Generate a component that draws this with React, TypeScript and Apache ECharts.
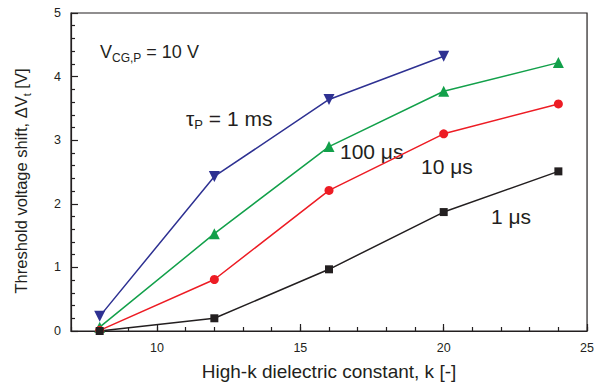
import React, { useEffect, useRef } from "react";
import * as echarts from "echarts";

const kValues = [8, 12, 16, 20, 24];
const tau1ms = [0.23, 2.43, 3.64, 4.32];
const tau100us = [0.06, 1.53, 2.9, 3.77, 4.22];
const tau10us = [0.01, 0.81, 2.21, 3.1, 3.57];
const tau1us = [0.0, 0.2, 0.97, 1.87, 2.51];
const xTickLabels = [10, 15, 20, 25];

const pairs = (ys: number[]) => ys.map((y, i) => [kValues[i], y]);

const FONT = "Liberation Sans, Arial, Helvetica, sans-serif";
const INK = "#231f20";

export default function App() {
  const ref = useRef<HTMLDivElement>(null);
  useEffect(() => {
    const chart = echarts.init(ref.current!, null, { renderer: "svg" });
    const mkSeries = (name: string, data: number[], color: string, symbol: string, size: number, rotate = 0) => ({
      name,
      type: "line",
      xAxisIndex: 0,
      data: pairs(data),
      symbol,
      symbolSize: size,
      symbolRotate: rotate,
      lineStyle: { color, width: 1.5 },
      itemStyle: { color },
      showSymbol: true,
    });
    chart.setOption({
      animation: false,
      textStyle: { fontFamily: FONT },
      grid: { left: 71, top: 13, right: 5, bottom: 54, show: true, borderColor: INK, borderWidth: 1.2 },
      xAxis: [
        {
          type: "value", min: 7, max: 25, interval: 1, position: "bottom",
          axisLine: { show: true, lineStyle: { color: INK, width: 1.2 } },
          axisTick: { show: true, inside: true, length: 4, lineStyle: { color: INK, width: 1.2 } },
          axisLabel: { show: false },
          splitLine: { show: false },
        },
        {
          type: "value", min: 7, max: 25, position: "bottom",
          axisLine: { show: false },
          axisTick: { show: true, inside: true, length: 7, customValues: xTickLabels, lineStyle: { color: INK, width: 1.2 } },
          axisLabel: { customValues: xTickLabels, color: INK, fontSize: 12.5, margin: 10, fontFamily: FONT },
          splitLine: { show: false },
          name: "High-k dielectric constant, k [-]",
          nameLocation: "middle",
          nameGap: 31,
          nameTextStyle: { color: INK, fontSize: 19, fontFamily: FONT },
        },
      ],
      yAxis: {
        type: "value", min: 0, max: 5, interval: 1,
        axisLine: { show: true, lineStyle: { color: INK, width: 1.2 } },
        axisTick: { show: true, inside: true, length: 7, lineStyle: { color: INK, width: 1.2 } },
        minorTick: { show: true, splitNumber: 5, length: 4, lineStyle: { color: INK, width: 1.2 } },
        axisLabel: { color: INK, fontSize: 12.5, margin: 10, fontFamily: FONT },
        splitLine: { show: false },
      },
      series: [
        mkSeries("1 ms", tau1ms, "#2e3192", "triangle", 11, 180),
        mkSeries("100 us", tau100us, "#12a04a", "triangle", 11),
        mkSeries("10 us", tau10us, "#ed1c24", "circle", 9),
        mkSeries("1 us", tau1us, INK, "rect", 8),
      ],
      graphic: [
        {
          type: "text", x: 21, y: 181, rotation: Math.PI / 2,
          style: {
            text: "{m|Threshold voltage shift, ΔV}{s|t}{m| [V]}",
            align: "center", verticalAlign: "middle", fill: INK,
            rich: {
              m: { fontSize: 16.5, fontFamily: FONT, fill: INK, lineHeight: 22, verticalAlign: "middle" },
              s: { fontSize: 11, fontFamily: FONT, fill: INK, lineHeight: 11, verticalAlign: "bottom" },
            },
          },
        },
        {
          type: "text", x: 100, y: 52,
          style: {
            text: "{m|V}{s|CG,P}{m| = 10 V}",
            align: "left", verticalAlign: "middle", fill: INK,
            rich: {
              m: { fontSize: 18, fontFamily: FONT, fill: INK, lineHeight: 24, verticalAlign: "middle" },
              s: { fontSize: 12, fontFamily: FONT, fill: INK, lineHeight: 12, verticalAlign: "bottom" },
            },
          },
        },
        {
          type: "text", x: 186, y: 118,
          style: {
            text: "{m|τ}{s|P}{m| = 1 ms}",
            align: "left", verticalAlign: "middle", fill: INK,
            rich: {
              m: { fontSize: 21, fontFamily: FONT, fill: INK, lineHeight: 26, verticalAlign: "middle" },
              s: { fontSize: 13, fontFamily: FONT, fill: INK, lineHeight: 13, verticalAlign: "bottom" },
            },
          },
        },
        { type: "text", x: 340, y: 151, style: { text: "100 μs", font: `21px ${FONT}`, fill: INK, align: "left", verticalAlign: "middle" } },
        { type: "text", x: 421, y: 166, style: { text: "10 μs", font: `21px ${FONT}`, fill: INK, align: "left", verticalAlign: "middle" } },
        { type: "text", x: 491, y: 216, style: { text: "1 μs", font: `21px ${FONT}`, fill: INK, align: "left", verticalAlign: "middle" } },
      ],
    });
    return () => chart.dispose();
  }, []);
  return <div ref={ref} style={{ position: "fixed", left: 0, top: 0, width: 597, height: 386, background: "#fff" }} />;
}
